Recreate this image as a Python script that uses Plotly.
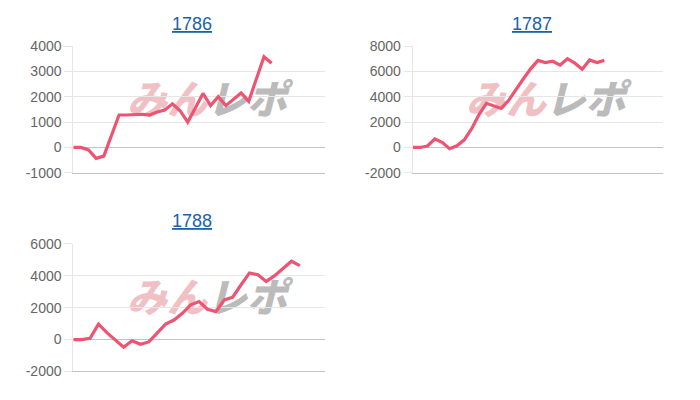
import plotly.graph_objects as go

# ---- data ----
TITLES = ["1786", "1787", "1788"]
SLOTS = [34, 35, 31]  # number of x positions on each chart's axis

VALUES_1786 = [0, 0, -100, -430, -340, 470, 1280, 1280, 1290, 1310, 1280, 1400,
               1480, 1720, 1450, 1000, 1560, 2130, 1650, 2000, 1650, 1880, 2150,
               1820, 2700, 3580, 3320]
VALUES_1787 = [0, 0, 120, 670, 400, -100, 130, 600, 1480, 2600, 3480, 3290,
               3080, 3700, 4600, 5400, 6200, 6870, 6700, 6800, 6500, 7000, 6650,
               6170, 6900, 6700, 6870]
VALUES_1788 = [0, 0, 80, 960, 430, -40, -480, -80, -300, -150, 380, 970, 1220,
               1640, 2170, 2380, 1890, 1750, 2480, 2650, 3430, 4170, 4060, 3640,
               4000, 4420, 4900, 4630]

Y_TICKS_1786 = [-1000, 0, 1000, 2000, 3000, 4000]
Y_TICKS_1787 = [-2000, 0, 2000, 4000, 6000, 8000]
Y_TICKS_1788 = [-2000, 0, 2000, 4000, 6000]

SERIES = [VALUES_1786, VALUES_1787, VALUES_1788]
YTICKS = [Y_TICKS_1786, Y_TICKS_1787, Y_TICKS_1788]

# ---- styling / layout ----
OFF = 8  # page body margin
W, H = 700 - 2 * OFF, 400 - 2 * OFF
LINE_COLOR = "#ec5472"
GRID = "#e6e6e6"
DARK = "#c4c4c4"
TICK_FONT = dict(family="Liberation Sans, Arial, sans-serif", size=14, color="#666666")
TITLE_COLOR = "#1a62ad"


def fy(screen_y):
    # screen pixel row -> figure pixel row (empirical vertical correction)
    return (screen_y - 16.2) / 0.96


def fx(screen_x):
    return screen_x - OFF


# pixel boxes on screen: (left, right, top, bottom)
BOXES = [(73.3, 325.0, 46.3, 173.3),
         (412.7, 663.3, 46.3, 173.3),
         (73.3, 325.0, 244.3, 372.3)]
TITLE_POS = [(191.7, 24.0), (531.7, 24.0), (191.7, 222.0)]

fig = go.Figure()
layout = dict(width=W, height=H, margin=dict(l=0, r=0, t=0, b=0),
              paper_bgcolor="white", plot_bgcolor="white", showlegend=False)
shapes = []
annotations = []

for k in range(3):
    sfx = "" if k == 0 else str(k + 1)
    vals = SERIES[k]
    l, r, t, b = BOXES[k]
    l, r, t, b = fx(l), fx(r), fy(t), fy(b)
    ticks = YTICKS[k]
    # watermark (drawn beneath the line)
    for txt, col, cx in (("みん", "rgba(232,150,158,0.6)", 0.372),
                         ("レポ", "rgba(165,165,165,0.75)", 0.69)):
        shapes.append(dict(
            type="rect", xref="x" + sfx + " domain", yref="y" + sfx + " domain",
            x0=cx - 0.16, x1=cx + 0.16, y0=0.40, y1=0.70,
            line=dict(width=0), fillcolor="rgba(0,0,0,0)", layer="below",
            label=dict(text=txt, textposition="middle center",
                       font=dict(family="Noto Sans CJK JP", size=40, color=col,
                                 weight=900, style="italic"))))
    fig.add_trace(go.Scatter(
        x=list(range(len(vals))), y=vals, mode="lines",
        line=dict(color=LINE_COLOR, width=3.2, shape="linear"),
        xaxis="x" + sfx, yaxis="y" + sfx, hoverinfo="skip"))
    layout["xaxis" + sfx] = dict(
        domain=[l / W, r / W], range=[0, SLOTS[k] - 1], anchor="y" + sfx,
        showgrid=False, zeroline=False, showticklabels=False, ticks="",
        showline=True, linecolor=DARK, linewidth=1, fixedrange=True)
    layout["yaxis" + sfx] = dict(
        domain=[1 - b / H, 1 - t / H], range=[ticks[0], ticks[-1]], anchor="x" + sfx,
        tickvals=ticks, ticktext=[str(v) for v in ticks],
        showgrid=True, gridcolor=GRID, gridwidth=1,
        zeroline=True, zerolinecolor=DARK, zerolinewidth=1,
        showline=True, linecolor=GRID, linewidth=1,
        ticks="outside", ticklen=8, tickcolor=GRID, tickfont=TICK_FONT,
        fixedrange=True)
    tx, ty = TITLE_POS[k]
    annotations.append(dict(
        text="<u>" + TITLES[k] + "</u>", xref="paper", yref="paper",
        x=fx(tx) / W, y=1 - fy(ty) / H, xanchor="center", yanchor="middle",
        showarrow=False,
        font=dict(family="Liberation Sans, Arial, sans-serif", size=18,
                  color=TITLE_COLOR)))

layout["shapes"] = shapes
layout["annotations"] = annotations
fig.update_layout(**layout)
fig.write_html("out.html")
